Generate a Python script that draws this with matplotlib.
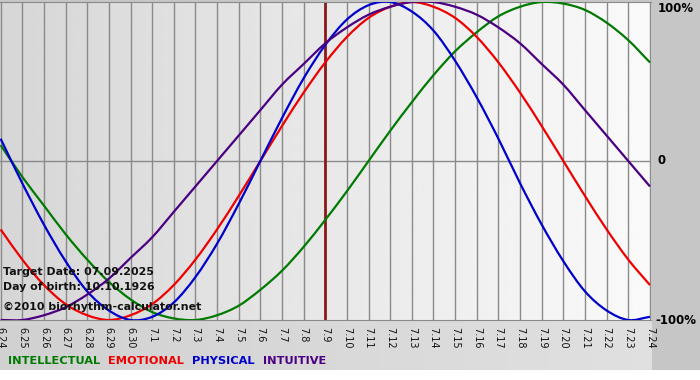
import numpy as np
import matplotlib
matplotlib.use("Agg")
import matplotlib.pyplot as plt
from matplotlib.path import Path
from matplotlib.patches import PathPatch

# ── Data: daily biorhythm values (fraction of 100%), 24 June .. 24 July ──────
day_labels = ["6.24", "6.25", "6.26", "6.27", "6.28", "6.29", "6.30",
              "7.1", "7.2", "7.3", "7.4", "7.5", "7.6", "7.7", "7.8", "7.9",
              "7.10", "7.11", "7.12", "7.13", "7.14", "7.15", "7.16", "7.17",
              "7.18", "7.19", "7.20", "7.21", "7.22", "7.23", "7.24"]

intellectual = [0.10, -0.10, -0.28, -0.46, -0.62, -0.76, -0.87, -0.95, -0.99,
                -1.00, -0.97, -0.91, -0.81, -0.69, -0.54, -0.37, -0.19, 0.00,
                0.19, 0.37, 0.54, 0.69, 0.81, 0.91, 0.97, 1.00, 0.99, 0.95,
                0.87, 0.76, 0.62]
emotional = [-0.43, -0.62, -0.78, -0.90, -0.97, -1.00, -0.97, -0.90, -0.78,
             -0.62, -0.43, -0.22, 0.00, 0.22, 0.43, 0.62, 0.78, 0.90, 0.97,
             1.00, 0.97, 0.90, 0.78, 0.62, 0.43, 0.22, 0.00, -0.22, -0.43,
             -0.62, -0.78]
physical = [0.14, -0.14, -0.40, -0.63, -0.82, -0.94, -1.00, -0.98, -0.89,
            -0.73, -0.52, -0.27, 0.00, 0.27, 0.52, 0.73, 0.89, 0.98, 1.00,
            0.94, 0.82, 0.63, 0.40, 0.14, -0.14, -0.40, -0.63, -0.82, -0.94,
            -1.00, -0.98]
intuitive = [-1.00, -1.00, -0.97, -0.92, -0.84, -0.74, -0.61, -0.48, -0.32,
             -0.16, 0.00, 0.16, 0.32, 0.48, 0.61, 0.74, 0.84, 0.92, 0.97,
             1.00, 1.00, 0.97, 0.92, 0.84, 0.74, 0.61, 0.48, 0.32, 0.16,
             0.00, -0.16]

target_index = 15  # 7.9
series = [("INTELLECTUAL", intellectual, "#007a00"),
          ("EMOTIONAL", emotional, "#ee0000"),
          ("PHYSICAL", physical, "#0000cc"),
          ("INTUITIVE", intuitive, "#4b0082")]

W, H = 700, 380


def smooth_path(xs, ys):
    """Catmull-Rom spline through the daily points, as a cubic Bezier path."""
    pts = np.column_stack([xs, ys]).astype(float)
    ext = np.vstack([2 * pts[0] - pts[1], pts, 2 * pts[-1] - pts[-2]])
    verts = [pts[0]]
    codes = [Path.MOVETO]
    for i in range(1, len(ext) - 2):
        p0, p1, p2, p3 = ext[i - 1], ext[i], ext[i + 1], ext[i + 2]
        verts += [p1 + (p2 - p0) / 6, p2 - (p3 - p1) / 6, p2]
        codes += [Path.CURVE4] * 3
    return Path(verts, codes)


fig = plt.figure(figsize=(W / 100, H / 100), dpi=100)
fig.patch.set_facecolor("white")

# ── Figure background (gray frame, white strip at the very bottom) ───────────
bg_ax = fig.add_axes([0, 0, 1, 1], zorder=-2)
bg = np.ones((H, W, 3))
bg[:370, :, :] = 0.78
gx = np.linspace(0.82, 0.88, 652)
bg[320:370, :652, :] = gx[None, :, None]
bg_ax.imshow(bg, aspect="auto", extent=[0, W, H, 0])
bg_ax.set_xlim(0, W)
bg_ax.set_ylim(H, 0)
bg_ax.axis("off")

# ── Main chart ────────────────────────────────────────────────────────────────
ax = fig.add_axes([0, 60 / H, 651 / W, 318 / H])
x = np.arange(len(day_labels))
ax.set_xlim(-0.03, 30.05)
ax.set_ylim(-1, 1)

grad = np.linspace(0.84, 0.98, 256)[None, :]
ax.imshow(grad, aspect="auto", cmap="gray", vmin=0, vmax=1,
          extent=[-0.03, 30.05, -1, 1], zorder=0)

for xi in x:
    ax.axvline(xi, color="#8a8a8a", lw=1.0, zorder=1)
ax.axhline(0, color="#8a8a8a", lw=1.0, zorder=1)
ax.axvline(target_index, color="#8b1a1a", lw=2.0, zorder=2)

for name, vals, col in series:
    ax.add_patch(PathPatch(smooth_path(x, vals), facecolor="none",
                           edgecolor=col, lw=1.6, zorder=3))

ax.set_xticks(x)
ax.set_xticklabels(day_labels, rotation=270, fontsize=7, color="#111111")
ax.tick_params(axis="x", length=0, pad=5)
ax.set_yticks([])
for s in ["left", "right"]:
    ax.spines[s].set_visible(False)
for s in ["top", "bottom"]:
    ax.spines[s].set_color("#8a8a8a")

# right-hand percentage labels
fig.text(658 / W, 1 - 8 / H, "100%", ha="left", va="center",
         fontsize=8.5, fontweight="bold")
fig.text(658 / W, 1 - 161 / H, "0", ha="left", va="center",
         fontsize=8.5, fontweight="bold")
fig.text(655 / W, 1 - 321 / H, "-100%", ha="left", va="center",
         fontsize=8.5, fontweight="bold")

# info text
info = [("Target Date: 07.09.2025", 272),
        ("Day of birth: 10.10.1926", 287),
        ("\u00a92010 biorhythm-calculator.net", 307)]
for txt, py in info:
    fig.text(3 / W, 1 - py / H, txt, ha="left", va="center",
             fontsize=7.9, fontweight="bold", color="#111111")

# legend text
px = 8
for name, vals, col in series:
    t = fig.text(px / W, 1 - 361 / H, name, ha="left", va="center",
                 fontsize=8.2, fontweight="bold", color=col)
    fig.canvas.draw()
    bb = t.get_window_extent()
    px += bb.width + 8

fig.savefig("out.png", dpi=100)
